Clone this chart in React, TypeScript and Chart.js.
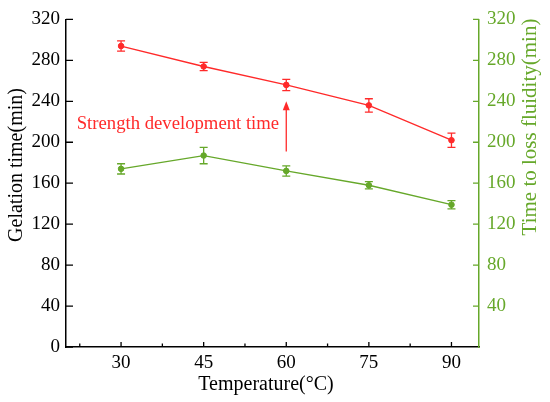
import React, { useEffect, useRef } from 'react';
import { Chart, registerables } from 'chart.js';

Chart.register(...registerables);

const temperatures = [30, 45, 60, 75, 90];
const gelationTime = [294, 274, 256, 236, 202];
const gelationErr = [5, 4, 5.5, 6.5, 7];
const fluidityTime = [174, 187, 172, 158, 139];
const fluidityErr = [5, 8, 5, 3.5, 4];
const xTicks = [30, 45, 60, 75, 90];
const xMinorTicks = [22.5, 37.5, 52.5, 67.5, 82.5];
const leftTicks = [0, 40, 80, 120, 160, 200, 240, 280, 320];
const rightTicks = [40, 80, 120, 160, 200, 240, 280, 320];

const RED = '#ff2a2a';
const GREEN = '#66a82a';
const FONT = '"Liberation Serif", "Times New Roman", serif';

const errorBars: any = {
  id: 'errorBars',
  afterDatasetsDraw(chart: any) {
    const { ctx } = chart;
    chart.data.datasets.forEach((ds: any, i: number) => {
      const meta = chart.getDatasetMeta(i);
      const yScale = chart.scales[ds.yAxisID];
      ctx.save();
      ctx.strokeStyle = ds.borderColor;
      ctx.lineWidth = 1.3;
      meta.data.forEach((pt: any, j: number) => {
        const v = ds.data[j].y;
        const e = ds.errors[j];
        const top = yScale.getPixelForValue(v + e);
        const bot = yScale.getPixelForValue(v - e);
        ctx.beginPath();
        ctx.moveTo(pt.x, top); ctx.lineTo(pt.x, bot);
        ctx.moveTo(pt.x - 4, top); ctx.lineTo(pt.x + 4, top);
        ctx.moveTo(pt.x - 4, bot); ctx.lineTo(pt.x + 4, bot);
        ctx.stroke();
      });
      ctx.restore();
    });
  },
};

const decorations: any = {
  id: 'decorations',
  afterDraw(chart: any) {
    const { ctx, chartArea: a, scales } = chart;
    const x = scales.x, yl = scales.yLeft, yr = scales.yRight;
    ctx.save();
    ctx.lineWidth = 1.3;
    // inward tick marks
    ctx.strokeStyle = '#000';
    ctx.beginPath();
    leftTicks.forEach((t) => { const p = yl.getPixelForValue(t); ctx.moveTo(a.left, p); ctx.lineTo(a.left + 7, p); });
    xTicks.forEach((t) => { const p = x.getPixelForValue(t); ctx.moveTo(p, a.bottom); ctx.lineTo(p, a.bottom - 5); });
    xMinorTicks.forEach((t) => { const p = x.getPixelForValue(t); ctx.moveTo(p, a.bottom); ctx.lineTo(p, a.bottom - 3.5); });
    ctx.stroke();
    ctx.strokeStyle = GREEN;
    ctx.beginPath();
    rightTicks.forEach((t) => { const p = yr.getPixelForValue(t); ctx.moveTo(a.right, p); ctx.lineTo(a.right - 6, p); });
    ctx.stroke();

    // annotation arrow and label
    const ax = x.getPixelForValue(60);
    const ay0 = yl.getPixelForValue(191);
    const ay1 = yl.getPixelForValue(240);
    ctx.strokeStyle = RED;
    ctx.fillStyle = RED;
    ctx.lineWidth = 1.3;
    ctx.beginPath(); ctx.moveTo(ax, ay0); ctx.lineTo(ax, ay1 + 6); ctx.stroke();
    ctx.beginPath(); ctx.moveTo(ax, ay1); ctx.lineTo(ax - 3.5, ay1 + 9); ctx.lineTo(ax + 3.5, ay1 + 9); ctx.closePath(); ctx.fill();
    ctx.font = `18.7px ${FONT}`;
    ctx.textAlign = 'right';
    ctx.textBaseline = 'middle';
    ctx.fillText('Strength development time', x.getPixelForValue(58.7), yl.getPixelForValue(218));

    // axis titles
    ctx.fillStyle = '#000';
    ctx.textAlign = 'center';
    ctx.font = `20px ${FONT}`;
    ctx.fillText('Temperature(\u00b0C)', 266, 385);
    ctx.save();
    ctx.translate(17, 165);
    ctx.rotate(-Math.PI / 2);
    ctx.fillText('Gelation time(min)', 0, 0);
    ctx.restore();
    ctx.save();
    ctx.fillStyle = GREEN;
    ctx.font = `21px ${FONT}`;
    ctx.translate(530, 127);
    ctx.rotate(-Math.PI / 2);
    ctx.fillText('Time to loss fluidity(min)', 0, 0);
    ctx.restore();
    ctx.restore();
  },
};

export default function App() {
  const canvasRef = useRef<HTMLCanvasElement>(null);

  useEffect(() => {
    document.body.style.margin = '0';
    let chart: Chart | null = null;
    if (canvasRef.current) {
      chart = new Chart(canvasRef.current, {
        type: 'line',
        data: {
          datasets: [
            {
              label: 'Gelation time',
              data: temperatures.map((t, i) => ({ x: t, y: gelationTime[i] })),
              errors: gelationErr,
              yAxisID: 'yLeft',
              borderColor: RED,
              backgroundColor: RED,
              borderWidth: 1.3,
              pointRadius: 2.8,
              pointBorderWidth: 1,
            } as any,
            {
              label: 'Time to loss fluidity',
              data: temperatures.map((t, i) => ({ x: t, y: fluidityTime[i] })),
              errors: fluidityErr,
              yAxisID: 'yRight',
              borderColor: GREEN,
              backgroundColor: GREEN,
              borderWidth: 1.3,
              pointRadius: 2.8,
              pointBorderWidth: 1,
            } as any,
          ],
        },
        options: {
          animation: false,
          responsive: true,
          maintainAspectRatio: false,
          layout: { padding: { top: 14, bottom: 0, left: 0, right: 0 } },
          plugins: { legend: { display: false }, tooltip: { enabled: false } },
          scales: {
            x: {
              type: 'linear',
              min: 20,
              max: 95,
              afterBuildTicks: (s: any) => { s.ticks = xTicks.map((v) => ({ value: v })); },
              afterFit: (s: any) => { s.height = 55; },
              grid: { drawOnChartArea: false, drawTicks: false },
              border: { color: '#000', width: 1.5 },
              ticks: { padding: 5, color: '#000', font: { family: FONT, size: 19 } },
            },
            yLeft: {
              type: 'linear',
              position: 'left',
              min: 0,
              max: 320,
              afterBuildTicks: (s: any) => { s.ticks = leftTicks.map((v) => ({ value: v })); },
              afterFit: (s: any) => { s.width = 66; },
              grid: { drawOnChartArea: false, drawTicks: false },
              border: { color: '#000', width: 1.5 },
              ticks: { padding: 6, color: '#000', font: { family: FONT, size: 19 } },
            },
            yRight: {
              type: 'linear',
              position: 'right',
              min: 0,
              max: 320,
              afterBuildTicks: (s: any) => { s.ticks = rightTicks.map((v) => ({ value: v })); },
              afterFit: (s: any) => { s.width = 71; },
              grid: { drawOnChartArea: false, drawTicks: false },
              border: { color: GREEN, width: 1.5 },
              ticks: { padding: 8, color: GREEN, font: { family: FONT, size: 19 } },
            },
          },
        },
        plugins: [errorBars, decorations],
      });
    }
    return () => { if (chart) chart.destroy(); };
  }, []);

  return (
    <div style={{ width: 550, height: 402, position: 'relative', background: '#fff' }}>
      <canvas ref={canvasRef}></canvas>
    </div>
  );
}
